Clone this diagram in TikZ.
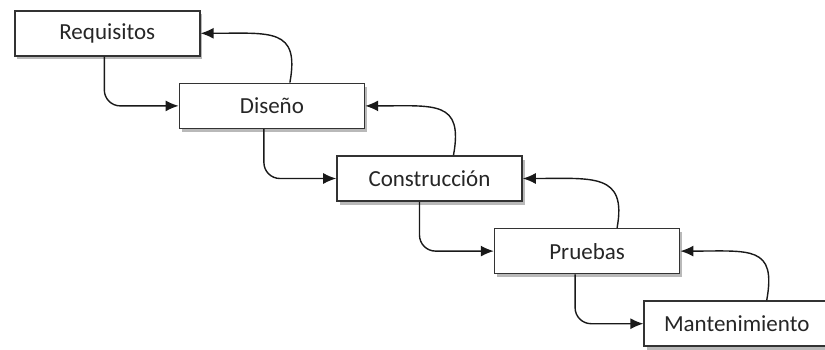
\documentclass[tikz,border=0pt]{standalone}
\usepackage{fontspec}
\setmainfont{Carlito}
\usetikzlibrary{positioning,arrows.meta,shadows}

\begin{document}
\begin{tikzpicture}[x=1pt, y=1pt,
    box/.style={draw=black!80, line width=1.6pt, fill=white, minimum width=185pt,
      minimum height=45pt, inner sep=0pt, font=\fontsize{23}{27}\selectfont, text=black!85,
      drop shadow={shadow xshift=2.5pt, shadow yshift=-3.5pt, opacity=0.5, fill=black!55}},
    fwd/.style={-{Latex[length=13pt,width=11pt]}, line width=1.4pt, draw=black!90, rounded corners=16pt},
    ret/.style={-{Latex[length=13pt,width=11pt]}, line width=1.4pt, draw=black!90}]
  \useasboundingbox (0,0) rectangle (825,349);
      \node (R) [box, anchor=north west] at (14,339) {Requisitos};
      \node (D) [box, below right=26pt and -22pt of R] {Diseño};
      \node (C) [box, below right=26pt and -29pt of D] {Construcción};
      \node (P) [box, below right=26pt and -29pt of C] {Pruebas};
      \node (M) [box, below right=26pt and -37pt of P] {Mantenimiento};
    % hacia delante
    \draw [fwd] ([xshift=-3pt]R.south) |- (D.west);
    \draw [fwd] ([xshift=-8pt]D.south) |- (C.west);
    \draw [fwd] ([xshift=-10pt]C.south) |- (P.west);
    \draw [fwd] ([xshift=-12pt]P.south) |- (M.west);
    % de vuelta
    \draw [ret] ([xshift=18pt]D.north) .. controls +(10,55) and +(70,0) .. (R.east);
    \draw [ret] ([xshift=24pt]C.north) .. controls +(10,55) and +(70,0) .. (D.east);
    \draw [ret] ([xshift=30pt]P.north) .. controls +(10,55) and +(70,0) .. (C.east);
    \draw [ret] ([xshift=30pt]M.north) .. controls +(10,55) and +(70,0) .. (P.east);
\end{tikzpicture}
\end{document}
